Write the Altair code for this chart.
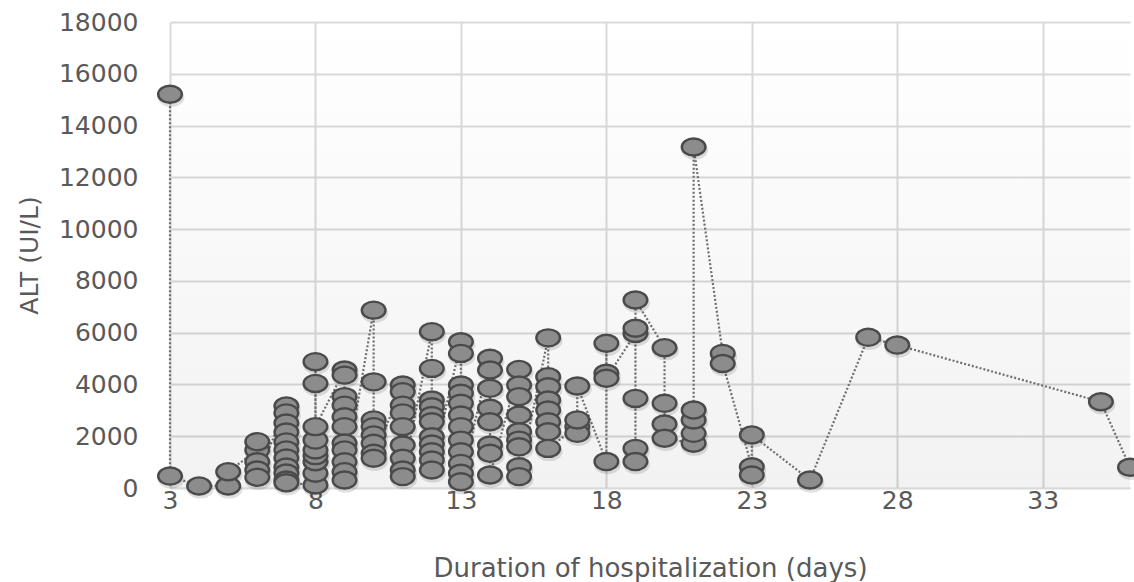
import altair as alt
import pandas as pd

# Hospital stay (days) and ALT level (UI/L) per patient, in plotting path order
day = (
    [3, 3]
    + [4]
    + [5, 5]
    + [6] * 5
    + [7] * 11
    + [8] * 9
    + [9] * 11
    + [10] * 8
    + [11] * 9
    + [12] * 11
    + [13] * 12
    + [14] * 8
    + [15] * 9
    + [16] * 8
    + [17] * 4
    + [18] * 4
    + [19] * 6
    + [20] * 4
    + [21] * 5
    + [22] * 2
    + [23] * 3
    + [25, 27, 28, 35, 36]
)

alt_level = [
    15210, 460,
    80,
    80, 630,
    1470, 1790, 1015, 695, 413,
    3170, 2900, 2510, 2160, 1780, 1470, 1160, 810, 580, 310, 200,
    115, 570, 1015, 1250, 1470, 1850, 4880, 4040, 2370,
    4560, 4360, 3530, 3200, 2750, 2370, 1740, 1470, 1015, 630, 310,
    6870, 4100, 2630, 2370, 2050, 1730, 1340, 1150,
    3980, 3720, 3200, 2900, 2370, 1660, 1150, 695, 440,
    6040, 4620, 3400, 3140, 2800, 2560, 1980, 1700, 1400, 1080, 695,
    5650, 5200, 3980, 3660, 3270, 2820, 2370, 1850, 1400, 950, 570, 240,
    5010, 4560, 3850, 3080, 2560, 1660, 1340, 500,
    4580, 3980, 3530, 2820, 2170, 1850, 1590, 820, 440,
    5800, 4300, 3910, 3400, 3010, 2560, 2170, 1530,
    2370, 2110, 2630, 3940,
    1020, 5590, 4430, 4240,
    5970, 3460, 1530, 1020, 6170, 7260,
    5420, 3270, 2470, 1920,
    1730, 2110, 2630, 3010, 13170,
    5200, 4810,
    820, 500, 2050,
    310, 5820, 5520, 3330, 800,
]

x_ticks = [3, 8, 13, 18, 23, 28, 33]
y_ticks = list(range(0, 18001, 2000))

df = pd.DataFrame({"day": day, "alt": alt_level, "seq": range(len(day))})

FONT = "DejaVu Sans"
LABEL_COLOR = "#595959"

x_enc = alt.X(
    "day:Q",
    scale=alt.Scale(domain=[3, 36], nice=False, zero=False),
    axis=alt.Axis(
        values=x_ticks,
        format="d",
        title="Duration of hospitalization (days)",
        grid=True,
        gridColor="#d9d9d9",
        gridWidth=2,
        domain=False,
        ticks=False,
        labelFlush=False,
        labelOverlap=False,
        labelPadding=0,
        labelFontSize=25,
        labelColor=LABEL_COLOR,
        labelFont=FONT,
        titleFont=FONT,
        titleFontSize=26,
        titleFontWeight="normal",
        titleColor=LABEL_COLOR,
        titlePadding=42,
    ),
)
y_enc = alt.Y(
    "alt:Q",
    scale=alt.Scale(domain=[0, 18000], nice=False),
    axis=alt.Axis(
        values=y_ticks,
        format="d",
        title="ALT (UI/L)",
        grid=True,
        gridColor="#d9d9d9",
        gridWidth=2,
        domain=False,
        ticks=False,
        labelFlush=False,
        labelOverlap=False,
        labelPadding=32,
        labelFontSize=25,
        labelColor=LABEL_COLOR,
        labelFont=FONT,
        titleFont=FONT,
        titleFontSize=25,
        titleFontWeight="normal",
        titleColor=LABEL_COLOR,
        titlePadding=16,
    ),
)

# soft haze towards the bottom of the plotting area
haze = alt.Chart(pd.DataFrame({"k": [0]})).mark_rect(
    color=alt.Gradient(
        gradient="linear",
        stops=[
            alt.GradientStop(color="rgba(0,0,0,0)", offset=0),
            alt.GradientStop(color="rgba(0,0,0,0.05)", offset=1),
        ],
        x1=0, x2=0, y1=0, y2=1,
    )
).encode(
    x=alt.value(0), x2=alt.value("width"), y=alt.value(0), y2=alt.value("height")
)

path = alt.Chart(df).mark_line(
    color="#6e6e6e", strokeWidth=2.2, strokeDash=[2, 2]
).encode(x=x_enc, y=y_enc, order="seq:Q")

ELLIPSE = "M -1 0 A 1 0.72 0 1 0 1 0 A 1 0.72 0 1 0 -1 0 Z"

shadow = alt.Chart(df).mark_point(
    shape=ELLIPSE, size=720, filled=True, color="#000000", opacity=0.12,
    xOffset=1, yOffset=3,
).encode(x="day:Q", y="alt:Q")

dots = alt.Chart(df).mark_point(
    shape=ELLIPSE, size=560, filled=True, fill="#8c8c8c", stroke="#4a4a4a",
    strokeWidth=2.4, opacity=1,
).encode(x="day:Q", y="alt:Q")

chart = (
    alt.layer(haze, path, shadow, dots)
    .properties(
        width=960,
        height=466,
        autosize=alt.AutoSizeParams(type="none"),
        padding={"left": 170, "top": 22, "right": 4, "bottom": 94},
        background="white",
    )
    .configure_view(stroke=None)
)

chart.save("out.html", embed_options={"renderer": "svg", "actions": False})
